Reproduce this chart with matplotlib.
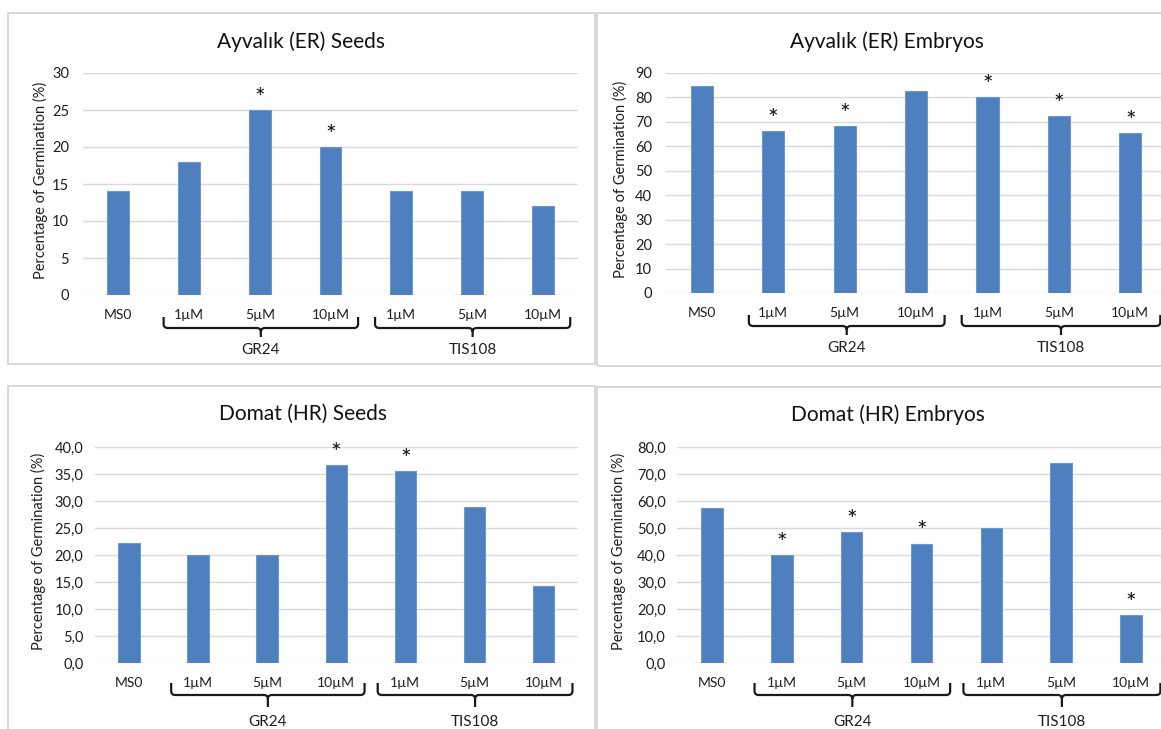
import matplotlib
matplotlib.use('Agg')
import matplotlib.pyplot as plt
from matplotlib.patches import Rectangle, PathPatch
from matplotlib.path import Path
import matplotlib.transforms as mtransforms

plt.rcParams['font.family'] = ['Lato', 'DejaVu Sans']

W, H = 1161, 729
DPI = 100

# ---------------- data ----------------
categories = ['MS0', '1µM', '5µM', '10µM', '1µM', '5µM', '10µM']
group_names = ['GR24', 'TIS108']

ayvalik_seeds = [14.0, 18.0, 25.0, 20.0, 14.0, 14.0, 12.0]
ayvalik_seeds_sig = [False, False, True, True, False, False, False]

ayvalik_embryos = [84.8, 66.4, 68.4, 82.5, 80.0, 72.3, 65.4]
ayvalik_embryos_sig = [False, True, True, False, True, True, True]

domat_seeds = [22.2, 20.0, 20.0, 36.6, 35.5, 28.9, 14.3]
domat_seeds_sig = [False, False, False, True, True, False, False]

domat_embryos = [57.5, 40.0, 48.4, 44.2, 50.0, 74.0, 17.9]
domat_embryos_sig = [False, True, True, True, False, False, True]

titles = ['Ayvalık (ER) Seeds', 'Ayvalık (ER) Embryos',
          'Domat (HR) Seeds', 'Domat (HR) Embryos']
ylabel = 'Percentage of Germination (%)'

# ---------------- style ----------------
BAR = '#4E7FBE'
BAR_EDGE = '#6F98CD'
GRID = '#D9D9D9'
BORDER = '#D2D2D2'
TXT = '#1f1f1f'

fig = plt.figure(figsize=(W / DPI, H / DPI), dpi=DPI)


def fx(x):
    return x / W


def fy(y):
    return 1 - y / H


# panel borders (pixel boxes: x0, y0, x1, y1)
boxes = [(8, 13, 595, 364), (597, 13, 1180, 366),
         (8, 386, 595, 745), (597, 387, 1180, 745)]
for (x0, y0, x1, y1) in boxes:
    fig.add_artist(Rectangle((fx(x0), fy(y1)), (x1 - x0) / W, (y1 - y0) / H,
                             transform=fig.transFigure, fill=False,
                             ec=BORDER, lw=1.2))

panels = [
    dict(values=ayvalik_seeds, sig=ayvalik_seeds_sig, title=titles[0],
         box=(83, 73, 578, 295), ymax=30, step=5, fmt='{:.0f}',
         title_xy=(301, 42), ylab_x=40, tick_pad=10,
         label_off=20, brace=(22, 33, 42), group_off=55,
         spans=[(0.64, 3.39), (3.63, 6.39)]),
    dict(values=ayvalik_embryos, sig=ayvalik_embryos_sig, title=titles[1],
         box=(666, 73, 1166, 293), ymax=90, step=10, fmt='{:.0f}',
         title_xy=(887, 42), ylab_x=620, tick_pad=10,
         label_off=20, brace=(22, 33, 42), group_off=55,
         spans=[(0.66, 3.40), (3.64, 6.42)]),
    dict(values=domat_seeds, sig=domat_seeds_sig, title=titles[2],
         box=(94.5, 447, 578, 663), ymax=40, step=5, fmt='{:.1f}',
         title_xy=(303, 414), ylab_x=38, tick_pad=8,
         label_off=20, brace=(20, 32, 44), group_off=59,
         spans=[(0.61, 3.41), (3.60, 6.42)]),
    dict(values=domat_embryos, sig=domat_embryos_sig, title=titles[3],
         box=(677, 447, 1166, 663), ymax=80, step=10, fmt='{:.1f}',
         title_xy=(888, 415), ylab_x=618, tick_pad=8,
         label_off=20, brace=(20, 32, 44), group_off=59,
         spans=[(0.61, 3.41), (3.60, 6.42)]),
]

for p in panels:
    x0, y0, x1, y1 = p['box']
    hpx = y1 - y0
    ax = fig.add_axes([fx(x0), fy(y1), (x1 - x0) / W, (y1 - y0) / H])
    xs = list(range(len(categories)))
    ax.bar(xs, p['values'], width=0.31, color=BAR, edgecolor=BAR_EDGE,
           linewidth=0.8, zorder=3)
    ax.set_xlim(-0.5, len(categories) - 0.5)
    ax.set_ylim(0, p['ymax'])
    ticks = list(range(0, p['ymax'] + 1, p['step']))
    ax.set_yticks(ticks)
    ax.set_yticklabels([p['fmt'].format(t).replace('.', ',') for t in ticks])
    ax.tick_params(axis='y', length=0, pad=p['tick_pad'], labelsize=10.5,
                   labelcolor=TXT)
    ax.set_xticks([])
    ax.yaxis.grid(True, color=GRID, lw=1.0)
    ax.set_axisbelow(True)
    for s in ax.spines.values():
        s.set_visible(False)
    ax.patch.set_alpha(0)

    # stars
    for i, (v, s) in enumerate(zip(p['values'], p['sig'])):
        if s:
            ax.annotate('*', xy=(i, v), xytext=(0, 3.0),
                        textcoords='offset points', ha='center',
                        va='baseline', fontsize=18, color='#111111',
                        annotation_clip=False)

    blend = mtransforms.blended_transform_factory(ax.transData, ax.transAxes)
    # category labels
    for i, c in enumerate(categories):
        ax.text(i, -p['label_off'] / hpx, c, transform=blend, ha='center',
                va='center', fontsize=10, color=TXT, clip_on=False)

    # braces
    yt, yh, ysp = [-v / hpx for v in p['brace']]
    r = 4 / hpx
    rx = 0.06
    for (a, b), g in zip(p['spans'], group_names):
        c = (a + b) / 2
        verts = [(a, yt), (a, yh + r), (a, yh), (a + rx, yh),
                 (c - rx, yh), (c, yh), (c, yh - r), (c, ysp),
                 (c, yh - r), (c, yh), (c + rx, yh),
                 (b - rx, yh), (b, yh), (b, yh + r), (b, yt)]
        codes = [Path.MOVETO, Path.LINETO, Path.CURVE3, Path.CURVE3,
                 Path.LINETO, Path.CURVE3, Path.CURVE3, Path.LINETO,
                 Path.MOVETO, Path.CURVE3, Path.CURVE3,
                 Path.LINETO, Path.CURVE3, Path.CURVE3, Path.LINETO]
        patch = PathPatch(Path(verts, codes), transform=blend, fill=False,
                          ec='#1a1a1a', lw=1.6, clip_on=False)
        ax.add_patch(patch)
        ax.text(c, -p['group_off'] / hpx, g, transform=blend, ha='center',
                va='center', fontsize=11, color=TXT, clip_on=False)

    # title and y label
    fig.text(fx(p['title_xy'][0]), fy(p['title_xy'][1]), p['title'],
             ha='center', va='center', fontsize=15, color='#111111')
    fig.text(fx(p['ylab_x']), fy((y0 + y1) / 2 - 4), ylabel, rotation=90,
             ha='center', va='center', fontsize=10.5, color=TXT)

fig.savefig('out.png', dpi=DPI)
